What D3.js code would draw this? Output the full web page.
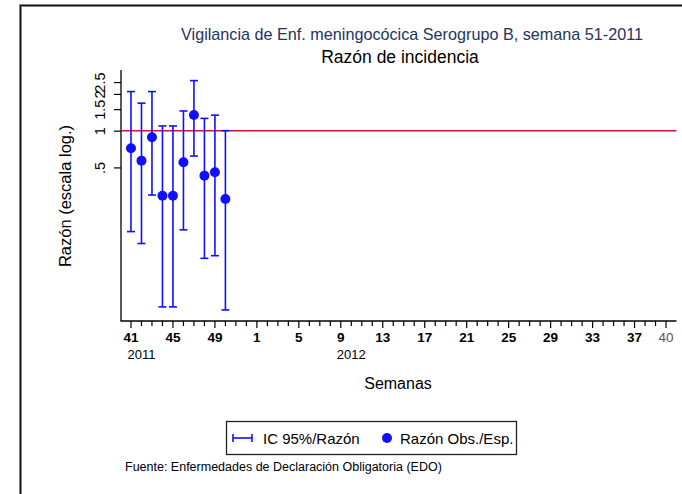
<!DOCTYPE html>
<html><head><meta charset="utf-8">
<script src="https://cdn.jsdelivr.net/npm/d3@7"></script>
<style>body{margin:0;background:#fff;} svg{display:block;font-family:"Liberation Sans",Arial,sans-serif;}</style>
</head><body>
<script>
const weeks = [41,42,43,44,45,46,47,48,49,50,51,52,1,2,3,4,5,6,7,8,9,10,11,12,13,14,15,16,17,18,19,20,21,22,23,24,25,26,27,28,29,30,31,32,33,34,35,36,37,38,39,40];
const tickLabelIdx = [0,4,8,12,16,20,24,28,32,36,40,44,48,51];
const yearLabels = [{idx:1, text:"2011"},{idx:21, text:"2012"}];
const ratio = [0.717,0.568,0.883,0.293,0.293,0.551,1.345,0.428,0.456,0.276];
const ciLow = [0.149,0.119,0.297,0.036,0.036,0.154,0.62,0.090,0.0946,0.034];
const ciHigh = [2.09,1.68,2.09,1.093,1.093,1.45,2.57,1.26,1.34,1.0];
const yTicks = [0.5,1,1.5,2,2.5];
const yTickLabels = [".5","1","1.5","2","2.5"];

const W=682,H=494;
const svg=d3.select("body").append("svg").attr("width",W).attr("height",H);
// frame
svg.append("rect").attr("x",20.5).attr("y",5.5).attr("width",700).attr("height",600)
  .attr("fill","none").attr("stroke","#999").attr("stroke-width",3);
svg.append("rect").attr("x",20.5).attr("y",5.5).attr("width",700).attr("height",600)
  .attr("fill","none").attr("stroke","#111").attr("stroke-width",1.3);

const x=d3.scaleLinear().domain([-1,52]).range([120.5,676.5]);
const y=d3.scaleLog().domain([0.0276,3.14]).range([321,70]);

// titles
svg.append("text").attr("x",412).attr("y",40).attr("text-anchor","middle").attr("font-size",16.2)
  .attr("fill","#26335e").text("Vigilancia de Enf. meningocócica Serogrupo B, semana 51-2011");
svg.append("text").attr("x",400).attr("y",63).attr("text-anchor","middle").attr("font-size",17.5)
  .attr("fill","#000").text("Razón de incidencia");

// y axis
const yAxis=d3.axisLeft(y).tickValues(yTicks).tickFormat((d,i)=>yTickLabels[i]).tickSize(7).tickSizeOuter(0);
const gy=svg.append("g").attr("transform","translate(121,0)").call(yAxis);
gy.select(".domain").remove();
gy.append("line").attr("x1",0).attr("x2",0).attr("y1",70).attr("y2",321).attr("stroke","#000").attr("stroke-width",1.3);
gy.selectAll(".tick line").attr("stroke","#000").attr("stroke-width",1.2);
gy.selectAll(".tick text").attr("font-size",14.5).attr("fill","#000")
  .attr("transform","translate(-21,0) rotate(-90)").attr("x",0).attr("dy","0.35em").attr("text-anchor","middle")
  .attr("font-family","Liberation Sans, Arial, sans-serif");
svg.append("text").attr("transform","translate(71,196) rotate(-90)").attr("text-anchor","middle")
  .attr("font-size",16.5).text("Razón (escala log.)");

// x axis
const gx=svg.append("g");
gx.append("line").attr("x1",120.5).attr("x2",676.5).attr("y1",321).attr("y2",321).attr("stroke","#000").attr("stroke-width",1.3);
gx.selectAll("line.t").data(weeks).join("line").attr("class","t")
  .attr("x1",(d,i)=>x(i)).attr("x2",(d,i)=>x(i)).attr("y1",321)
  .attr("y2",(d,i)=>tickLabelIdx.includes(i)?328:326).attr("stroke","#000").attr("stroke-width",1.2);
gx.selectAll("text.tl").data(tickLabelIdx).join("text").attr("class","tl")
  .attr("x",i=>x(i)).attr("y",342).attr("text-anchor","middle").attr("font-size",13.5)
  .attr("font-weight",i=>i===51?"normal":"bold").attr("fill",i=>i===51?"#555":"#000")
  .text(i=>weeks[i]);
gx.selectAll("text.yr").data(yearLabels).join("text").attr("class","yr")
  .attr("x",d=>x(d.idx)).attr("y",359).attr("text-anchor","middle").attr("font-size",13)
  .text(d=>d.text);
svg.append("text").attr("x",398).attr("y",389).attr("text-anchor","middle").attr("font-size",16).text("Semanas");

// reference line
svg.append("line").attr("x1",121).attr("x2",676.5).attr("y1",y(1)).attr("y2",y(1))
  .attr("stroke","#d0103a").attr("stroke-width",1.5);

// error bars
const blue="#1010ff";
const eb=svg.append("g").attr("stroke",blue).attr("stroke-width",1.6);
ratio.forEach((r,i)=>{
  const cx=x(i);
  eb.append("line").attr("x1",cx).attr("x2",cx).attr("y1",y(ciLow[i])).attr("y2",y(ciHigh[i]));
  eb.append("line").attr("x1",cx-4).attr("x2",cx+4).attr("y1",y(ciLow[i])).attr("y2",y(ciLow[i]));
  eb.append("line").attr("x1",cx-4).attr("x2",cx+4).attr("y1",y(ciHigh[i])).attr("y2",y(ciHigh[i]));
});
svg.append("g").selectAll("circle").data(ratio).join("circle")
  .attr("cx",(d,i)=>x(i)).attr("cy",d=>y(d)).attr("r",5).attr("fill",blue);

// legend
svg.append("rect").attr("x",226.5).attr("y",421.5).attr("width",290).attr("height",33)
  .attr("fill","#fff").attr("stroke","#222").attr("stroke-width",1.3);
const lg=svg.append("g").attr("stroke",blue).attr("stroke-width",1.6);
lg.append("line").attr("x1",233).attr("x2",252).attr("y1",438).attr("y2",438);
lg.append("line").attr("x1",233).attr("x2",233).attr("y1",434).attr("y2",442);
lg.append("line").attr("x1",252).attr("x2",252).attr("y1",434).attr("y2",442);
svg.append("text").attr("x",263).attr("y",443.5).attr("font-size",15).text("IC 95%/Razón");
svg.append("circle").attr("cx",387).attr("cy",438).attr("r",5).attr("fill",blue);
svg.append("text").attr("x",400).attr("y",443.5).attr("font-size",15).text("Razón Obs./Esp.");

svg.append("text").attr("x",125).attr("y",471).attr("font-size",12.5).text("Fuente: Enfermedades de Declaración Obligatoria (EDO)");
</script>
</body></html>
